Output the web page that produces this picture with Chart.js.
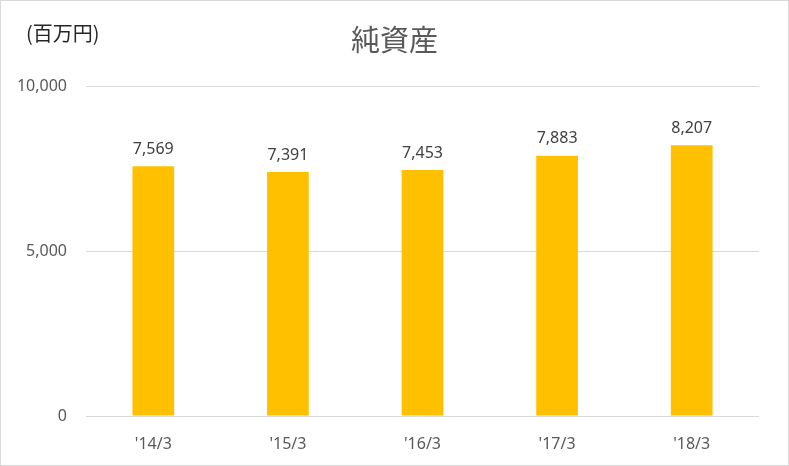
<!DOCTYPE html>
<html>
<head>
<meta charset="utf-8">
<script src="https://cdn.jsdelivr.net/npm/chart.js@4"></script>
<style>
  body { margin: 0; background: #fff; }
  #box { width: 787px; height: 464px; border: 1px solid #d9d9d9; position: relative; }
</style>
</head>
<body>
<div id="box"><canvas id="grafico"></canvas></div>
<script>
var titolo = '純資産';
var unita = '(百万円)';
var anni = ["'14/3", "'15/3", "'16/3", "'17/3", "'18/3"];
var valori = [7569, 7391, 7453, 7883, 8207];
var tickValori = [0, 5000, 10000];

var grigio = '#595959';
var font = '"Noto Sans", "Noto Sans CJK JP", sans-serif';

// testi: titolo, unita, etichette sopra le barre
var testiPlugin = {
    id: 'testi',
    afterDatasetsDraw: function (chart) {
        var ctx = chart.ctx;
        ctx.save();
        ctx.fillStyle = grigio;
        ctx.font = '29px "Noto Sans CJK JP", sans-serif';
        ctx.textAlign = 'center';
        ctx.textBaseline = 'middle';
        ctx.fillText(titolo, chart.width / 2, 39);

        ctx.fillStyle = '#262626';
        ctx.font = '20px "Noto Sans CJK JP", sans-serif';
        ctx.textAlign = 'left';
        ctx.fillText(unita, 25, 32);

        ctx.fillStyle = '#404040';
        ctx.font = '16px ' + font;
        ctx.textAlign = 'center';
        ctx.textBaseline = 'bottom';
        var meta = chart.getDatasetMeta(0);
        for (var i = 0; i < meta.data.length; i++) {
            var bar = meta.data[i];
            ctx.fillText(valori[i].toLocaleString('en-US'), bar.x, bar.y - 9);
        }
        ctx.restore();
    }
};

var ctx = document.getElementById('grafico');
var chart = new Chart(ctx, {
    type: 'bar',
    data: {
        labels: anni,
        datasets: [{
            label: titolo,
            backgroundColor: '#FFC000',
            data: valori,
            barPercentage: 0.31,
            categoryPercentage: 1
        }]
    },
    options: {
        responsive: true,
        maintainAspectRatio: false,
        animation: false,
        layout: { padding: { top: 85, right: 29, left: 0, bottom: 0 } },
        plugins: {
            legend: { display: false },
            tooltip: { enabled: false }
        },
        scales: {
            x: {
                grid: { display: false },
                border: { display: false },
                ticks: { color: grigio, font: { size: 16, family: font }, padding: 11 },
                afterFit: function (s) { s.height = 49; }
            },
            y: {
                min: 0,
                max: 10000,
                afterBuildTicks: function (s) {
                    s.ticks = tickValori.map(function (v) { return { value: v }; });
                },
                grid: { color: '#d9d9d9', drawTicks: false, lineWidth: 1 },
                border: { display: false },
                ticks: {
                    color: grigio,
                    font: { size: 16, family: font },
                    padding: 19,
                    callback: function (v) { return v.toLocaleString('en-US'); }
                },
                afterFit: function (s) { s.width = 85; }
            }
        }
    },
    plugins: [testiPlugin]
});
</script>
</body>
</html>
